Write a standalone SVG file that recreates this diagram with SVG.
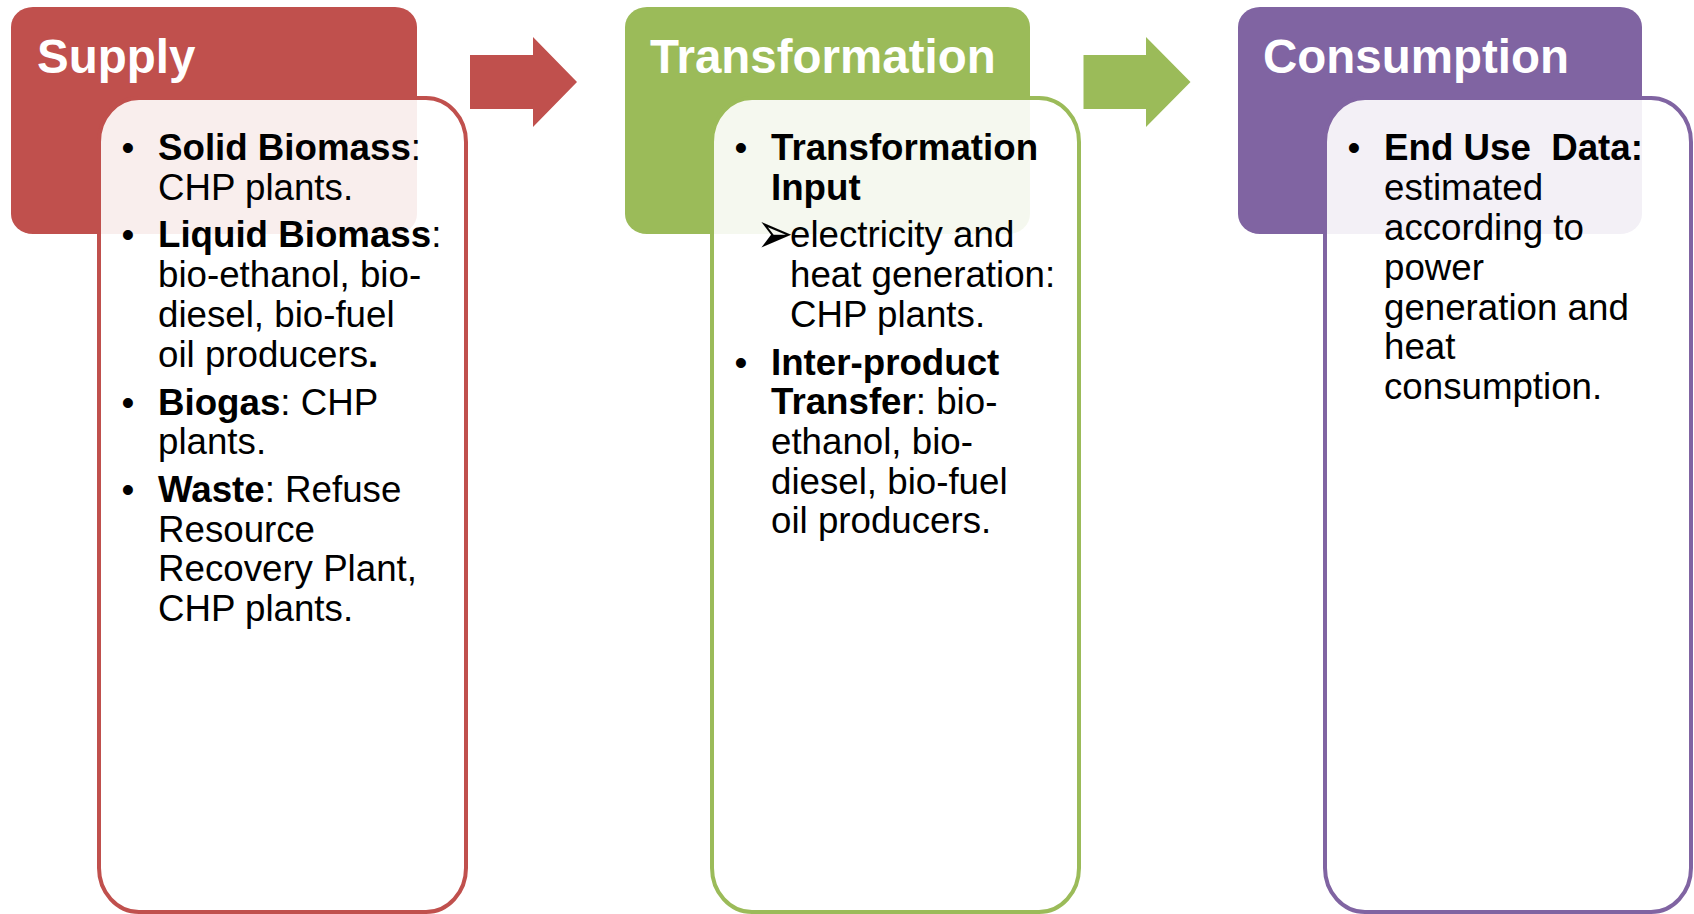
<svg xmlns="http://www.w3.org/2000/svg" width="1694" height="914" viewBox="0 0 1694 914">
<style>
.hdr{font-family:"Liberation Sans",Arial,sans-serif;font-weight:bold;font-size:47.5px;fill:#fff}
.t{font-family:"Liberation Sans",Arial,sans-serif;font-size:36.7px;fill:#000}
.b{font-weight:bold}
.sym{font-family:"DejaVu Sans",sans-serif;font-size:44px}
.body{fill:#fff;fill-opacity:0.9;stroke-width:4}
</style>
<rect width="1694" height="914" fill="#fff"/>
<g id="supply">
<rect x="11" y="7" width="406" height="227" rx="22" ry="20" fill="#C0504D"/>
<text class="hdr" x="37" y="73">Supply</text>
<rect class="body" x="99" y="98" width="367" height="814" rx="40" ry="44" stroke="#C0504D"/>
<g class="t">
<text x="121.6" y="160">•</text>
<text x="158" y="160"><tspan class="b">Solid Biomass</tspan>:</text>
<text x="158" y="199.5">CHP plants.</text>
<text x="121.6" y="247">•</text>
<text x="158" y="247"><tspan class="b">Liquid Biomass</tspan>:</text>
<text x="158" y="287">bio-ethanol, bio-</text>
<text x="158" y="327">diesel, bio-fuel</text>
<text x="158" y="367">oil producers<tspan class="b">.</tspan></text>
<text x="121.6" y="415">•</text>
<text x="158" y="415"><tspan class="b">Biogas</tspan>: CHP</text>
<text x="158" y="454">plants.</text>
<text x="121.6" y="502">•</text>
<text x="158" y="502"><tspan class="b">Waste</tspan>: Refuse</text>
<text x="158" y="542">Resource</text>
<text x="158" y="581">Recovery Plant,</text>
<text x="158" y="621">CHP plants.</text>
</g>
</g>
<g id="transformation">
<rect x="625" y="7" width="405" height="227" rx="22" ry="20" fill="#9BBB59"/>
<text class="hdr" x="650" y="73">Transformation</text>
<rect class="body" x="712" y="98" width="367" height="814" rx="40" ry="44" stroke="#9BBB59"/>
<g class="t">
<text x="734.6" y="160">•</text>
<text x="771" y="160" class="b">Transformation</text>
<text x="771" y="199.5" class="b">Input</text>
<text class="sym" transform="translate(756.5,253) scale(1,1.32)">➢</text>
<text x="790" y="247">electricity and</text>
<text x="790" y="287">heat generation:</text>
<text x="790" y="326.5">CHP plants.</text>
<text x="734.6" y="374.5">•</text>
<text x="771" y="374.5" class="b">Inter-product</text>
<text x="771" y="414"><tspan class="b">Transfer</tspan>: bio-</text>
<text x="771" y="454">ethanol, bio-</text>
<text x="771" y="494">diesel, bio-fuel</text>
<text x="771" y="533">oil producers.</text>
</g>
</g>
<g id="consumption">
<rect x="1238" y="7" width="404" height="227" rx="22" ry="20" fill="#8064A2"/>
<text class="hdr" x="1263" y="73">Consumption</text>
<rect class="body" x="1325" y="98" width="366" height="814" rx="40" ry="44" stroke="#8064A2"/>
<g class="t">
<text x="1347.6" y="160">•</text>
<text x="1384" y="160" class="b" xml:space="preserve">End Use  Data:</text>
<text x="1384" y="199.5">estimated</text>
<text x="1384" y="239.5">according to</text>
<text x="1384" y="279.5">power</text>
<text x="1384" y="319.5">generation and</text>
<text x="1384" y="359">heat</text>
<text x="1384" y="399">consumption.</text>
</g>
</g>
<g id="connectors">
<polygon points="470,55 533,55 533,37 577,82 533,127 533,109 470,109" fill="#C0504D"/>
<polygon points="1083.5,55 1146,55 1146,37 1190.5,82 1146,127 1146,109 1083.5,109" fill="#9BBB59"/>
</g>
</svg>
